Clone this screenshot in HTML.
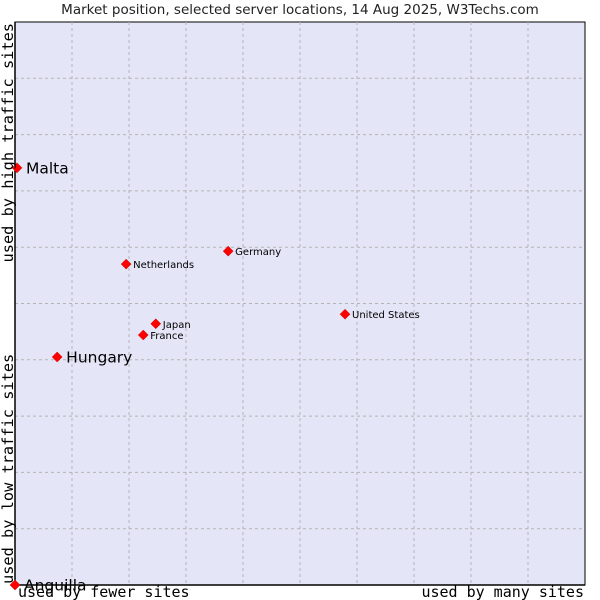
<!DOCTYPE html>
<html><head><meta charset="utf-8"><style>body{margin:0;background:#fff}svg{display:block}</style></head>
<body>
<svg width="600" height="600" xmlns="http://www.w3.org/2000/svg">
<text x="300" y="14" text-anchor="middle" font-family="DejaVu Sans, sans-serif" font-size="13.5" fill="#222">Market position, selected server locations, 14 Aug 2025, W3Techs.com</text>
<rect x="15" y="22" width="570" height="563" fill="#e4e6f8" stroke="#000" stroke-width="1"/>
<g id="grid"></g>
<line x1="15" y1="22" x2="15" y2="585" stroke="#000" stroke-width="1.5"/>
<line x1="15" y1="585" x2="585" y2="585" stroke="#000" stroke-width="1.5"/>
<g id="points"></g>
<text x="18" y="597" font-family="DejaVu Sans Mono, monospace" font-size="15" fill="#000">used by fewer sites</text>
<text x="584" y="597" text-anchor="end" font-family="DejaVu Sans Mono, monospace" font-size="15" fill="#000">used by many sites</text>
<text transform="translate(13,584) rotate(-90)" font-family="DejaVu Sans Mono, monospace" font-size="15.3" fill="#000">used by low traffic sites</text>
<text transform="translate(13,23) rotate(-90)" text-anchor="end" font-family="DejaVu Sans Mono, monospace" font-size="15.3" fill="#000">used by high traffic sites</text>
</svg>
<script>
const names=["Malta","Germany","Netherlands","United States","Japan","France","Hungary","Anguilla"];
const xVals=[0.0035,0.374,0.195,0.579,0.247,0.225,0.074,0];
const yVals=[0.741,0.593,0.570,0.481,0.464,0.444,0.405,0];
const big=[true,false,false,false,false,false,true,true];
const L=15,T=22,W=570,H=563;
const sx=v=>L+v*W, sy=v=>T+H-v*H;
const NS="http://www.w3.org/2000/svg";
const grid=document.getElementById('grid');
for(let i=1;i<10;i++){
 const lv=document.createElementNS(NS,'line');
 
 
 lv.setAttribute('x1',sx(i/10));lv.setAttribute('x2',sx(i/10));lv.setAttribute('y1',T);lv.setAttribute('y2',T+H);
 lv.setAttribute('stroke','#b4b4b4');lv.setAttribute('stroke-dasharray','3,3');grid.appendChild(lv);
 const lh=document.createElementNS(NS,'line');
 
 
 lh.setAttribute('y1',sy(i/10));lh.setAttribute('y2',sy(i/10));lh.setAttribute('x1',L);lh.setAttribute('x2',L+W);
 lh.setAttribute('stroke','#b4b4b4');lh.setAttribute('stroke-dasharray','3,3');grid.appendChild(lh);
}
const pts=document.getElementById('points');
names.forEach((n,i)=>{
 const x=sx(xVals[i]),y=sy(yVals[i]);
 const d=document.createElementNS(NS,'polygon');
 
 
 d.setAttribute('points',`${x},${y-5} ${x+5},${y} ${x},${y+5} ${x-5},${y}`);
 d.setAttribute('fill','#f00');d.setAttribute('stroke','#c00');d.setAttribute('stroke-width','0.5');
 pts.appendChild(d);
 const t=document.createElementNS(NS,'text');
 
 
 t.setAttribute('x',x+(big[i]?9:7));t.setAttribute('y',y+(big[i]?5.5:4));
 t.setAttribute('font-family','DejaVu Sans, sans-serif');t.setAttribute('font-size',big[i]?15.5:10);
 t.setAttribute('fill','#000');t.textContent=n;pts.appendChild(t);
});
</script>
</body></html>
